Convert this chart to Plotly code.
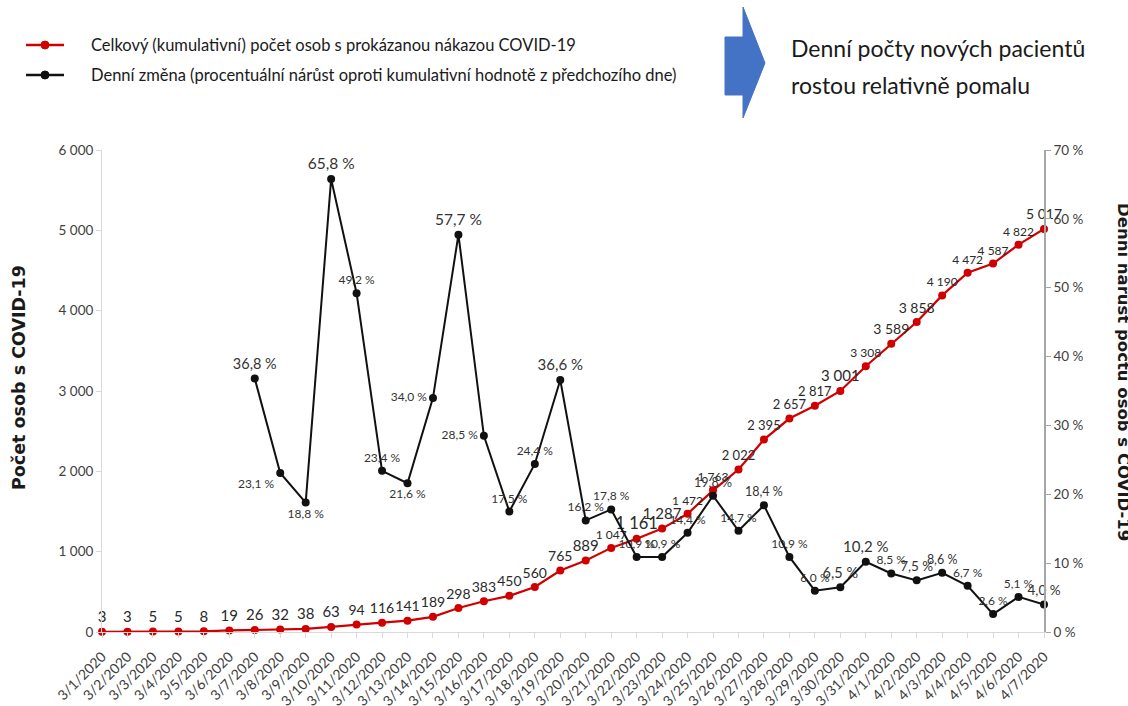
import plotly.graph_objects as go

dates = ["3/1/2020", "3/2/2020", "3/3/2020", "3/4/2020", "3/5/2020", "3/6/2020", "3/7/2020",
         "3/8/2020", "3/9/2020", "3/10/2020", "3/11/2020", "3/12/2020", "3/13/2020", "3/14/2020",
         "3/15/2020", "3/16/2020", "3/17/2020", "3/18/2020", "3/19/2020", "3/20/2020", "3/21/2020",
         "3/22/2020", "3/23/2020", "3/24/2020", "3/25/2020", "3/26/2020", "3/27/2020", "3/28/2020",
         "3/29/2020", "3/30/2020", "3/31/2020", "4/1/2020", "4/2/2020", "4/3/2020", "4/4/2020",
         "4/5/2020", "4/6/2020", "4/7/2020"]

cumulative = [3, 3, 5, 5, 8, 19, 26, 32, 38, 63, 94, 116, 141, 189, 298, 383, 450, 560, 765, 889,
              1047, 1161, 1287, 1472, 1763, 2022, 2395, 2657, 2817, 3001, 3308, 3589, 3858, 4190,
              4472, 4587, 4822, 5017]

pct_dates = dates[6:]
daily_pct = [36.8, 23.1, 18.8, 65.8, 49.2, 23.4, 21.6, 34.0, 57.7, 28.5, 17.5, 24.4, 36.6, 16.2,
             17.8, 10.9, 10.9, 14.4, 19.8, 14.7, 18.4, 10.9, 6.0, 6.5, 10.2, 8.5, 7.5, 8.6, 6.7,
             2.6, 5.1, 4.0]

left_ticks = [0, 1000, 2000, 3000, 4000, 5000, 6000]
right_ticks = [0, 10, 20, 30, 40, 50, 60, 70]

name_cum = "Celkový (kumulativní) počet osob s prokázanou nákazou COVID-19"
name_pct = "Denní změna (procentuální nárůst oproti kumulativní hodnotě z předchozího dne)"

# label styling (not data)
cum_label_sizes = [15, 15, 15, 15, 15, 15, 15, 15, 15, 15, 14, 14, 14, 14, 14, 14, 14, 14, 14, 15,
                   12, 16.5, 15, 12, 12, 13, 13, 13, 13, 15, 12, 14, 14, 12, 12, 12, 12, 14]
pct_label_sizes = [14.5, 12, 12, 15.5, 12, 12, 12, 12, 15.5, 12, 12, 12, 15, 12, 12, 12, 12, 12,
                   12.5, 12, 12.5, 12, 12, 14.5, 15, 12, 13.5, 12.5, 12, 12, 12, 13.5]
pct_label_pos = ["top center", "bottom left", "bottom center", "top center", "top center",
                 "top center", "bottom center", "middle left", "top center", "middle left",
                 "top center", "top center", "top center", "top center", "top center",
                 "top center", "top center", "top center", "top center", "top center",
                 "top center", "top center", "top center", "top center", "top center",
                 "top center", "top center", "top center", "top center", "top center",
                 "top center", "top center"]

RED = "#d00000"
BLACK = "#111111"
FONT = "Lato"

def fmt_int(v):
    return f"{v:,}".replace(",", " ")

def fmt_pct(v):
    return f"{v:.1f}".replace(".", ",") + " %"

fig = go.Figure()

fig.add_trace(go.Scatter(
    x=dates, y=cumulative, mode="lines+markers+text", name=name_cum,
    line=dict(color=RED, width=2.2), marker=dict(color=RED, size=8),
    text=[fmt_int(v) for v in cumulative], textposition="top center",
    textfont=dict(family=FONT, size=cum_label_sizes, color="#2a2a2a"),
    cliponaxis=False, yaxis="y", showlegend=False))

fig.add_trace(go.Scatter(
    x=pct_dates, y=daily_pct, mode="lines+markers+text", name=name_pct,
    line=dict(color=BLACK, width=2), marker=dict(color=BLACK, size=8),
    text=[fmt_pct(v) for v in daily_pct], textposition=pct_label_pos,
    textfont=dict(family=FONT, size=pct_label_sizes, color="#333333"),
    cliponaxis=False, yaxis="y2", showlegend=False))

fig.update_layout(
    width=1128, height=706,
    margin=dict(l=102, r=84, t=150, b=74, autoexpand=False),
    paper_bgcolor="white", plot_bgcolor="white",
    font=dict(family=FONT, color="#404040"),
    showlegend=False,
    xaxis=dict(type="category", range=[0, len(dates) - 1], showgrid=False, automargin=False,
               showline=True, linecolor="#d9d9d9", linewidth=1,
               ticks="outside", ticklen=5, tickcolor="#d9d9d9",
               ticklabelstandoff=5,
               tickangle=-45, tickfont=dict(family=FONT, size=14, color="#404040"),
               zeroline=False),
    yaxis=dict(range=[0, 6000], tickvals=left_ticks, automargin=False,
               ticktext=[fmt_int(v) for v in left_ticks],
               showgrid=False, zeroline=False, showline=True, linecolor="#d9d9d9",
               ticks="outside", ticklen=5, tickcolor="#d9d9d9",
               tickfont=dict(family=FONT, size=13.5, color="#404040")),
    yaxis2=dict(range=[0, 70], tickvals=right_ticks, automargin=False,
                ticktext=[f"{v} %" for v in right_ticks],
                overlaying="y", side="right", anchor="x",
                showgrid=False, zeroline=False, showline=True, linecolor="#a6a6a6",
                linewidth=1.5, ticks="outside", ticklen=5, tickcolor="#a6a6a6",
                tickfont=dict(family=FONT, size=13.5, color="#404040")),
)

PLOT_BOTTOM = 706 - 74

def px(xp):
    return (xp - 102) / 942

def py(yp):
    return (PLOT_BOTTOM - yp) / (PLOT_BOTTOM - 150)

# legend (drawn)
for name, color, yy in [(name_cum, RED, 45), (name_pct, BLACK, 75)]:
    fig.add_shape(type="line", xref="paper", yref="paper",
                  x0=px(26), x1=px(64), y0=py(yy), y1=py(yy),
                  line=dict(color=color, width=2.5))
    fig.add_shape(type="circle", xref="paper", yref="paper",
                  x0=px(41), x1=px(49), y0=py(yy + 4), y1=py(yy - 4),
                  fillcolor=color, line=dict(color=color, width=1))
    fig.add_annotation(text=name, xref="paper", yref="paper", x=px(89), y=py(yy),
                       xanchor="left", yanchor="middle", showarrow=False,
                       font=dict(family=FONT, size=16.5, color="#1a1a1a"))

# axis titles
fig.add_annotation(text="<b>Počet osob s COVID-19</b>", xref="paper", yref="paper",
                   x=px(19), y=py(378), textangle=-90, showarrow=False,
                   xanchor="center", yanchor="middle",
                   font=dict(family="DejaVu Sans", size=17.5, color="#1a1a1a"))
fig.add_annotation(text="<b>Denní nárůst počtu osob s COVID-19</b>", xref="paper", yref="paper",
                   x=px(1124), y=py(372), textangle=90, showarrow=False,
                   xanchor="center", yanchor="middle",
                   font=dict(family="DejaVu Sans", size=16.5, color="#1a1a1a"))

# side note with arrow
fig.add_annotation(text="Denní počty nových pacientů", xref="paper", yref="paper",
                   x=px(789), y=py(48), xanchor="left", yanchor="middle", showarrow=False,
                   font=dict(family=FONT, size=23, color="#1a1a1a"))
fig.add_annotation(text="rostou relativně pomalu", xref="paper", yref="paper",
                   x=px(789), y=py(85), xanchor="left", yanchor="middle", showarrow=False,
                   font=dict(family=FONT, size=23, color="#1a1a1a"))

arrow_pts = [(725, 37), (743, 37), (743, 7), (765, 63), (743, 118), (743, 95), (725, 95)]
path = "M " + " L ".join(f"{px(a):.5f},{py(b):.5f}" for a, b in arrow_pts) + " Z"
fig.add_shape(type="path", path=path, xref="paper", yref="paper",
              fillcolor="#4472c4", line=dict(color="#4472c4", width=1))

fig.write_html("out.html", config={"displayModeBar": False},
               post_script="document.body.style.margin='0';document.body.style.overflow='hidden';")
